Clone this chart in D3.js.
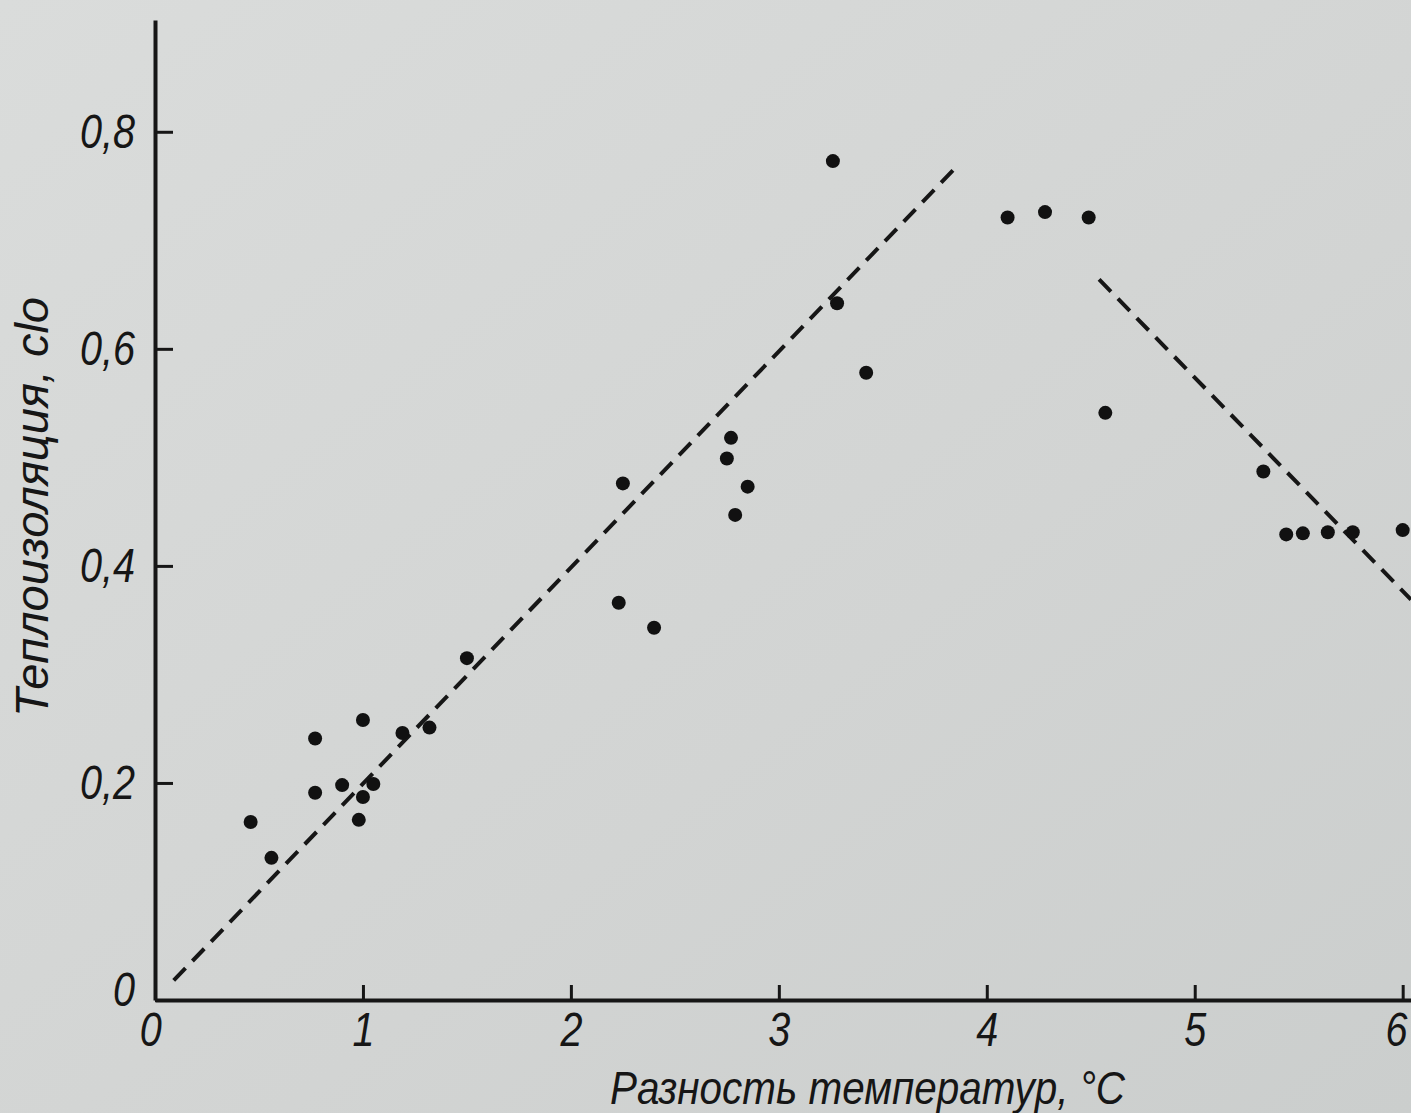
<!DOCTYPE html>
<html lang="ru">
  <head>
    <meta charset="utf-8">
    <title>Теплоизоляция</title>
    <script src="https://d3js.org/d3.v7.min.js"></script>
    <style type="text/css">
      html, body {
        margin: 0; padding: 0;
        background: #d4d6d5;
        overflow: hidden;
      }
      text {
        font-family: "Liberation Sans Narrow", "Liberation Sans", Arial, sans-serif;
        font-style: italic;
        fill: #161616;
      }
    </style>
  </head>

  <body>
    <svg width="1411" height="1113"></svg>

    <script type="text/javascript">

      // measured points: temperature difference (°C) vs insulation (clo)
      var tempDiff = [0.46, 0.56, 0.77, 0.77, 0.90, 1.00, 0.98, 1.00, 1.05, 1.19, 1.32, 1.50,
                      2.25, 2.23, 2.40, 2.77, 2.75, 2.85, 2.79,
                      3.26, 3.28, 3.42, 4.10, 4.28, 4.49, 4.57,
                      5.33, 5.44, 5.52, 5.64, 5.76, 6.00];
      var insulation = [0.164, 0.131, 0.241, 0.191, 0.198, 0.258, 0.166, 0.187, 0.199, 0.246, 0.251, 0.315,
                        0.476, 0.366, 0.343, 0.518, 0.499, 0.473, 0.447,
                        0.773, 0.642, 0.578, 0.721, 0.726, 0.721, 0.541,
                        0.487, 0.429, 0.430, 0.431, 0.431, 0.433];

      // the two dashed trend lines
      var riseX = [0.09, 3.84];
      var riseY = [0.018, 0.765];
      var fallX = [4.54, 6.04];
      var fallY = [0.664, 0.369];

      var xTicks = [0, 1, 2, 3, 4, 5, 6];
      var xTickLabels = ["0", "1", "2", "3", "4", "5", "6"];
      var yTicks = [0, 0.2, 0.4, 0.6, 0.8];
      var yTickLabels = ["0", "0,2", "0,4", "0,6", "0,8"];

      var w = 1411;
      var h = 1113;

      var x = d3.scaleLinear().domain([0, 6.04]).range([155, 1411]);
      var y = d3.scaleLinear().domain([0, 0.903]).range([1000, 20]);

      var svg = d3.select("svg");

      // scanned paper look
      var grad = svg.append("defs").append("linearGradient")
                    .attr("id", "paper")
                    .attr("x1", "0").attr("y1", "0")
                    .attr("x2", "1").attr("y2", "1");
      grad.append("stop").attr("offset", "0").attr("stop-color", "#dadcdb");
      grad.append("stop").attr("offset", "0.6").attr("stop-color", "#d2d4d3");
      grad.append("stop").attr("offset", "1").attr("stop-color", "#cbcecd");

      svg.append("rect")
         .attr("width", w)
         .attr("height", h)
         .attr("fill", "url(#paper)");

      // axes
      var xAxis = d3.axisBottom(x)
                    .tickValues(xTicks)
                    .tickFormat(function(d, i) { return xTickLabels[i]; })
                    .tickSizeInner(-15)
                    .tickSizeOuter(0)
                    .tickPadding(32);

      var yAxis = d3.axisLeft(y)
                    .tickValues(yTicks)
                    .tickFormat(function(d, i) { return yTickLabels[i]; })
                    .tickSizeInner(-18)
                    .tickSizeOuter(0)
                    .tickPadding(20);

      var xG = svg.append("g")
                  .attr("transform", "translate(0," + y(0) + ")")
                  .call(xAxis);

      var yG = svg.append("g")
                  .attr("transform", "translate(" + x(0) + ",0)")
                  .call(yAxis);

      // narrow italic digits like the printed figure
      function labelWidth(s) {
        return s.length === 1 ? 22 : 55;
      }

      [xG, yG].forEach(function(g) {
        g.select(".domain")
         .attr("stroke", "#161616")
         .attr("stroke-width", 4);
        g.selectAll(".tick line")
         .attr("stroke", "#161616")
         .attr("stroke-width", 3);
        g.selectAll(".tick text")
         .attr("font-family", null)
         .attr("fill", "#161616")
         .attr("textLength", function() { return labelWidth(this.textContent); })
         .attr("lengthAdjust", "spacingAndGlyphs")
         .style("font-size", "48px");
      });

      xG.selectAll(".tick text").attr("dy", "0.3em");
      // zero of the y axis sits a bit above the x axis
      yG.selectAll(".tick text")
        .filter(function(d) { return d === 0; })
        .attr("dy", "0.12em");
      xG.selectAll(".tick text")
        .filter(function(d) { return d === 0; })
        .attr("dx", "-0.1em");
      xG.selectAll(".tick text")
        .filter(function(d) { return d === 6; })
        .attr("dx", "-0.14em");

      // axis titles
      svg.append("text")
         .attr("x", 610)
         .attr("y", 1104)
         .attr("textLength", 515)
         .attr("lengthAdjust", "spacingAndGlyphs")
         .style("font-size", "46px")
         .text("Разность температур, °C");

      svg.append("text")
         .attr("transform", "translate(48,717) rotate(-90)")
         .attr("textLength", 420)
         .attr("lengthAdjust", "spacingAndGlyphs")
         .style("font-size", "46px")
         .text("Теплоизоляция, clo");

      // trend lines
      var line = d3.line()
                   .x(function(d) { return x(d[0]); })
                   .y(function(d) { return y(d[1]); });

      [[riseX, riseY], [fallX, fallY]].forEach(function(s) {
        svg.append("path")
           .datum(d3.zip(s[0], s[1]))
           .attr("d", line)
           .attr("fill", "none")
           .attr("stroke", "#161616")
           .attr("stroke-width", 4)
           .attr("stroke-dasharray", "17 10");
      });

      // points
      svg.append("g")
         .selectAll("circle")
         .data(d3.zip(tempDiff, insulation))
         .enter()
         .append("circle")
         .attr("cx", function(d) { return x(d[0]); })
         .attr("cy", function(d) { return y(d[1]); })
         .attr("r", 7)
         .attr("fill", "#111");

    </script>
  </body>
</html>
